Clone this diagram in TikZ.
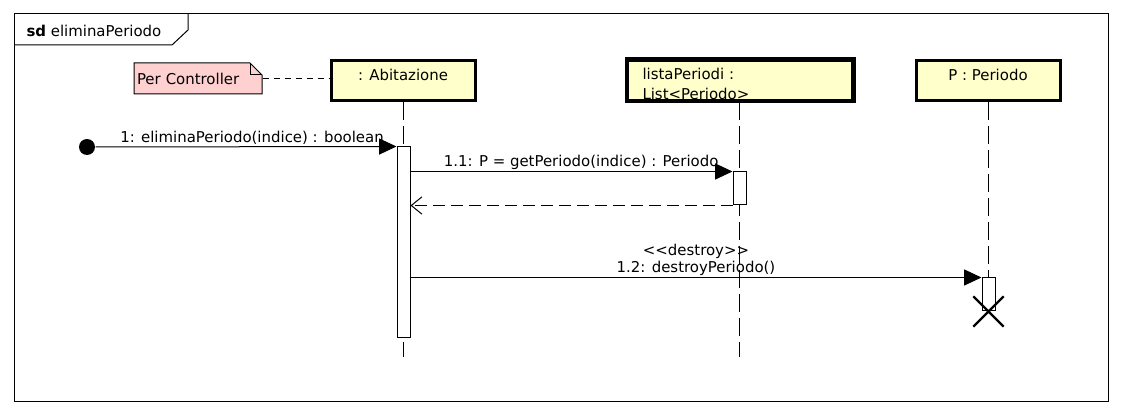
\documentclass[tikz,border=0pt]{standalone}
\usepackage{fontspec}
\setmainfont{DejaVu Sans}
\usetikzlibrary{arrows.meta,shapes.misc}
\definecolor{objfill}{HTML}{FFFFCC}
\definecolor{notefill}{HTML}{FFD0D0}
\tikzset{
    lifebox/.style={draw, line width=2.25pt, fill=objfill, minimum width=108pt, minimum height=30pt, inner sep=0pt, text depth=9pt},
    act/.style={draw, fill=white, line width=0.75pt, minimum width=9.75pt, inner sep=0pt},
    lifeline/.style={line width=0.75pt, dash pattern=on 13.5pt off 4.5pt},
    msg/.style={line width=0.75pt, -{Triangle[length=13pt, width=12pt]}},
    ret/.style={line width=0.75pt, dash pattern=on 9pt off 4.5pt, -{Straight Barb[length=8pt, width=13pt]}},
    lbl/.style={inner sep=1pt, align=center}
}
\begin{document}
\begin{tikzpicture}[x=0.75pt, y=-0.75pt, font=\fontsize{11.2}{13}\selectfont, line width=0.75pt]
            \useasboundingbox (0,0) rectangle (1121,416);
            % frame
            \draw (14,14) rectangle (1108,402);
            \draw (14,45) -- (172,45) -- (188,30) -- (188,14);
            \node[anchor=west, inner sep=0pt] (sd) at (26,31) {\textbf{sd} eliminaPeriodo};
            % note
            \filldraw[fill=notefill] (134,63) -- (250,63) -- (262,75) -- (262,94) -- (134,94) -- cycle;
            \draw (250,63) -- (250,75) -- (262,75);
            \node[minimum width=96pt, minimum height=23.25pt, inner sep=2.25pt, text width=91.5pt, align=left] (note) at (198,78.5) {Per Controller};
            % objects
            \node[lifebox] (abit) at (403,80.5) {: Abitazione};
            \node[lifebox, minimum width=168.75pt] (lista) at (740,80.5) {};
            \node[anchor=north west, inner sep=0pt, align=left] (listatxt) at (642,68) {listaPeriodi :\\[1.5pt]List<Periodo>};
            \draw[line width=2.25pt] (lista.south west) rectangle (lista.north east);
            \node[lifebox] (per) at (988,80.5) {P : Periodo};
            \draw[dash pattern=on 4.5pt off 3.75pt] (note.east) -- (note.east -| abit.west);
            % lifelines
            \coordinate (abitend) at (403,357);
            \coordinate (listaend) at (739,357);
            \coordinate (perend) at (988,278);
            \draw[lifeline] (abit.south) -- (abitend);
            \draw[lifeline] (lista.south -| listaend) -- (listaend);
            \draw[lifeline] (per.south) -- (perend);
            % activations
            \node[act, minimum height=143.25pt] (act1) at (403.5,242.5) {};
            \node[act, minimum height=24.75pt] (act2) at (739.5,188.5) {};
            \node[act, minimum height=24.75pt] (act3) at (988.5,294.5) {};
            \node[cross out, draw, line width=1.7pt, minimum size=21pt, inner sep=0pt] (kill) at (act3.south) {};
            % messages
            \node[circle, fill, minimum size=12pt, inner sep=0pt] (start) at (87,147) {};
            \draw[msg] (start) -- (act1.north west) node[lbl, above, pos=0.52] {1: eliminaPeriodo(indice) : boolean};
            \draw[msg] (act1.east |- act2.north) -- (act2.north west) node[lbl, above, pos=0.53] {1.1: P = getPeriodo(indice) : Periodo};
            \draw[ret] (act2.south west) -- (act1.east |- act2.south);
            \draw[msg] (act1.east |- act3.north) -- (act3.north west) node[lbl, above, midway] {\textless\kern0pt\textless destroy\textgreater\kern0pt\textgreater\\1.2: destroyPeriodo()};
        \end{tikzpicture}
\end{document}
